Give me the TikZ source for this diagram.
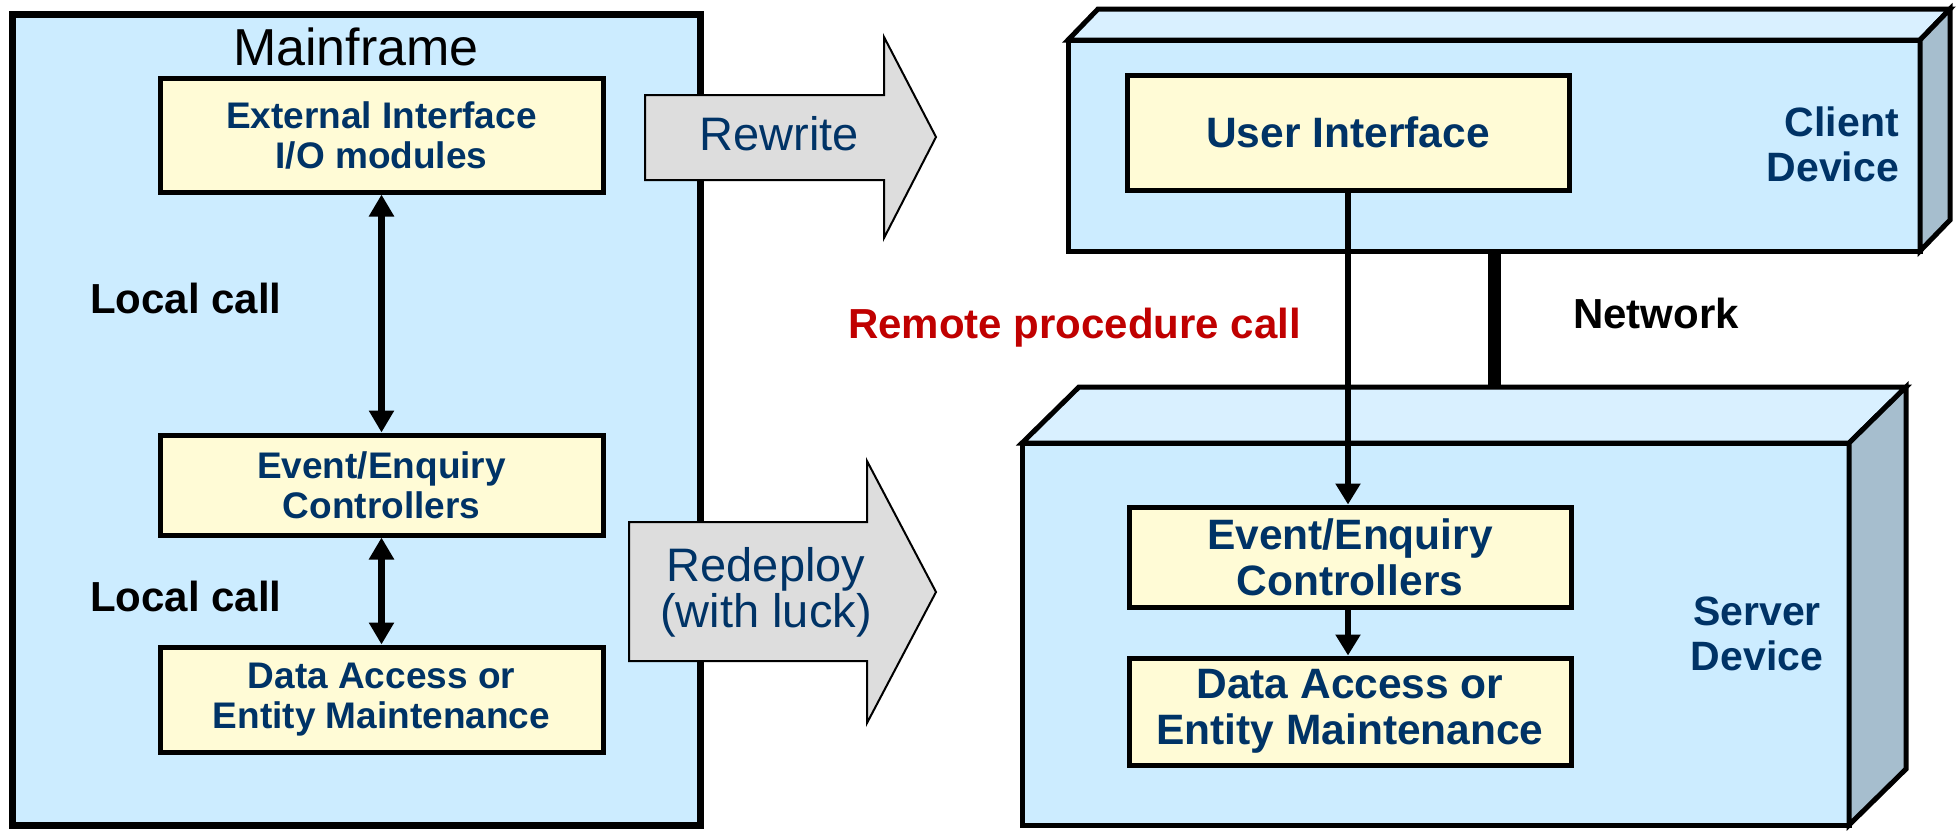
\documentclass[tikz,border=0pt]{standalone}
\usepackage{fontspec}
\setmainfont{Liberation Sans}
\usetikzlibrary{arrows.meta}

\definecolor{mfblue}{RGB}{204,236,255}
\definecolor{topblue}{RGB}{217,240,255}
\definecolor{sideblue}{RGB}{166,190,206}
\definecolor{boxyellow}{RGB}{255,251,214}
\definecolor{arrowgrey}{RGB}{221,221,221}
\definecolor{txtblue}{RGB}{0,51,102}
\definecolor{rpcred}{RGB}{192,0,0}

\begin{document}
\begin{tikzpicture}[x=1pt,y=-1pt,
  frame/.style={draw=black,line width=7pt,fill=mfblue,inner sep=0pt},
  compbox/.style={draw=black,line width=5pt,fill=boxyellow,inner sep=0pt,align=center,text=txtblue},
  smallcomp/.style={compbox,font=\bfseries\fontsize{37}{40}\selectfont,minimum width=443pt},
  largecomp/.style={compbox,font=\bfseries\fontsize{42.5}{46}\selectfont,minimum width=442pt},
  devface/.style={draw=black,line width=5pt,fill=mfblue,inner sep=0pt,outer sep=0pt},
  devedge/.style={draw=black,line width=5pt},
  bigarrow/.style={draw=black,line width=2pt,fill=arrowgrey},
  lbl/.style={font=\bfseries\fontsize{42}{46}\selectfont,inner sep=0pt},
  devlbl/.style={font=\bfseries\fontsize{41}{45}\selectfont,text=txtblue,inner sep=0pt},
  callarrow/.style={line width=7pt,{Triangle[width=24pt,length=22pt]}-{Triangle[width=24pt,length=22pt]}},
  oneway/.style={line width=6pt,-{Triangle[width=24pt,length=21pt]}}
]
\fill[white] (0,0) rectangle (1956,830);
\useasboundingbox (0,0) rectangle (1956,830);

% ---- Mainframe ----
\node[frame, minimum width=688pt, minimum height=811pt] (mainframe) at (356,420) {};
\node[anchor=base, font=\fontsize{52}{60}\selectfont, inner sep=0pt] (mftitle) at (356,65) {Mainframe};
\node[smallcomp, minimum height=114pt] (ext) at (381.5,135) {External Interface\\I/O modules};
\node[smallcomp, minimum height=100pt] (evt) at (381.5,485) {Event/Enquiry\\Controllers};
\node[smallcomp, minimum height=105pt] (dat) at (381.5,699.5) {Data Access or\\Entity Maintenance};
\draw[callarrow] (ext.south) -- (evt.north);
\draw[callarrow] (evt.south) -- (dat.north);
\node[lbl, anchor=base west] (lc1) at (90,313) {Local call};
\node[lbl, anchor=base west] (lc2) at (90,611) {Local call};

% ---- Migration arrows ----
\draw[bigarrow] (645,95) -- (884,95) -- (884,37) -- (936,137) -- (884,238) -- (884,180) -- (645,180) -- cycle;
\node[font=\fontsize{47}{50}\selectfont, text=txtblue, anchor=base, inner sep=0pt] (rewrite) at (779,150) {Rewrite};
\draw[bigarrow] (629,522) -- (867,522) -- (867,461) -- (936,592) -- (867,723) -- (867,661) -- (629,661) -- cycle;
\node[font=\fontsize{47}{46}\selectfont, text=txtblue, align=center, inner sep=0pt] (redeploy) at (766,592) {Redeploy\\(with luck)};

% ---- Client device ----
\node[devface, minimum width=852pt, minimum height=211pt] (client) at (1494,145.5) {};
\draw[devedge, fill=topblue] (client.north west) -- ++(30,-31) -- ++(852,0) -- (client.north east) -- cycle;
\draw[devedge, fill=sideblue] (client.north east) -- ++(30,-31) -- ++(0,211) -- (client.south east) -- cycle;
\node[largecomp, minimum height=115pt] (ui) at (1348,132.5) {User Interface};
\node[devlbl, align=right, anchor=east] (clientlbl) at (1899,144) {Client\\Device};

% ---- Server device ----
\node[devface, minimum width=827pt, minimum height=382pt] (server) at (1435.5,634) {};
\draw[devedge, fill=topblue] (server.north west) -- ++(57,-56) -- ++(827,0) -- (server.north east) -- cycle;
\draw[devedge, fill=sideblue] (server.north east) -- ++(57,-56) -- ++(0,382) -- (server.south east) -- cycle;
\node[largecomp, minimum height=100pt] (sevt) at (1350,557) {Event/Enquiry\\Controllers};
\node[largecomp, minimum height=107pt] (sdat) at (1350,711.5) {Data Access or\\Entity Maintenance};
\node[devlbl, align=center] (serverlbl) at (1757,634) {Server\\Device};

% ---- Network link ----
\coordinate (srvtop) at (1494,387);
\draw[line width=13pt] (client.south -| srvtop) -- (srvtop);
\node[lbl, anchor=base west] (net) at (1573,328) {Network};

% ---- Calls between tiers ----
\draw[oneway, line width=5.5pt] (ui.south) -- (ui.south |- sevt.north);
\node[lbl, text=rpcred, anchor=base west] (rpc) at (848,338) {Remote procedure call};
\draw[oneway] (sevt.south -| ui.south) -- (sdat.north -| ui.south);
\end{tikzpicture}
\end{document}
